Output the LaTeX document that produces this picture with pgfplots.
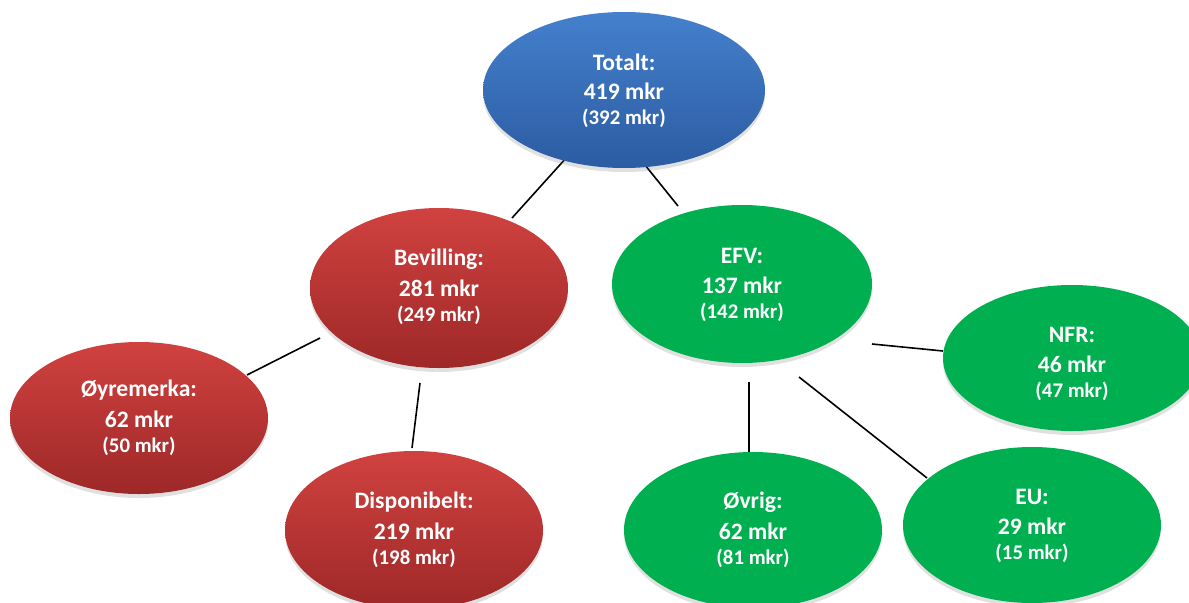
\documentclass[border=0pt]{standalone}
\usepackage{pgfplots}
\pgfplotsset{compat=1.18}
\usepackage{fontspec}
\setmainfont{Carlito}
\usetikzlibrary{shadows}
\definecolor{bluetop}{RGB}{68,128,205}
\definecolor{bluebot}{RGB}{44,92,162}
\definecolor{redtop}{RGB}{208,66,64}
\definecolor{redbot}{RGB}{158,40,40}
\definecolor{grn}{RGB}{0,176,80}
\newcommand\bub[9]{% x, y(center), rx, ry, fillstyle, line1, line2, line3, text y offset
  \draw[#5, draw=none, drop shadow={shadow xshift=0pt, shadow yshift=-2pt, opacity=0.2, fill=black!60}]
    (axis cs:#1,#2) ellipse [x radius=#3, y radius=#4];
  \node[text=white, font=\fontsize{11.8}{12}\selectfont\bfseries] at (axis cs:#1,#2+28+#9) {#6};
  \node[text=white, font=\fontsize{11.8}{12}\selectfont\bfseries] at (axis cs:#1,#2-1+#9) {#7};
  \node[text=white, font=\fontsize{10.4}{11}\selectfont\bfseries] at (axis cs:#1,#2-28+#9) {#8};
}
\begin{document}
\begin{tikzpicture}
\begin{axis}[
  width=594.5pt, height=301pt, scale only axis,
  xmin=0, xmax=1189, ymin=0, ymax=602,
  hide axis, clip=true,
]
% connector lines (image y converted: 602 - y)
\addplot[black, line width=0.8pt] coordinates {(567,445) (512,384)};
\addplot[black, line width=0.8pt] coordinates {(645,437) (678,396)};
\addplot[black, line width=0.8pt] coordinates {(320,264) (247,227)};
\addplot[black, line width=0.8pt] coordinates {(420,219) (412,154)};
\addplot[black, line width=0.8pt] coordinates {(749,220) (749,149)};
\addplot[black, line width=0.8pt] coordinates {(799,225) (927,124)};
\addplot[black, line width=0.8pt] coordinates {(872,258) (943,251)};
% bubbles
\bub{624}{512}{141}{78}{top color=bluetop, bottom color=bluebot}{Totalt:}{419 mkr}{(392 mkr)}{0}
\bub{439}{314}{129}{80}{top color=redtop, bottom color=redbot}{Bevilling:}{281 mkr}{(249 mkr)}{1}
\bub{742}{318}{130}{79}{fill=grn}{EFV:}{137 mkr}{(142 mkr)}{0}
\bub{1072}{244}{129}{73}{fill=grn}{NFR:}{46 mkr}{(47 mkr)}{-5}
\bub{139}{184}{129}{76}{top color=redtop, bottom color=redbot}{Øyremerka:}{62 mkr}{(50 mkr)}{0}
\bub{414}{72}{129}{79}{top color=redtop, bottom color=redbot}{Disponibelt:}{219 mkr}{(198 mkr)}{0}
\bub{753}{72}{129}{78}{fill=grn}{Øvrig:}{62 mkr}{(81 mkr)}{0}
\bub{1032}{77}{129}{78}{fill=grn}{EU:}{29 mkr}{(15 mkr)}{0}
\end{axis}
\pgfresetboundingbox
\path (current axis.south west) rectangle (current axis.north east);
\end{tikzpicture}
\end{document}
